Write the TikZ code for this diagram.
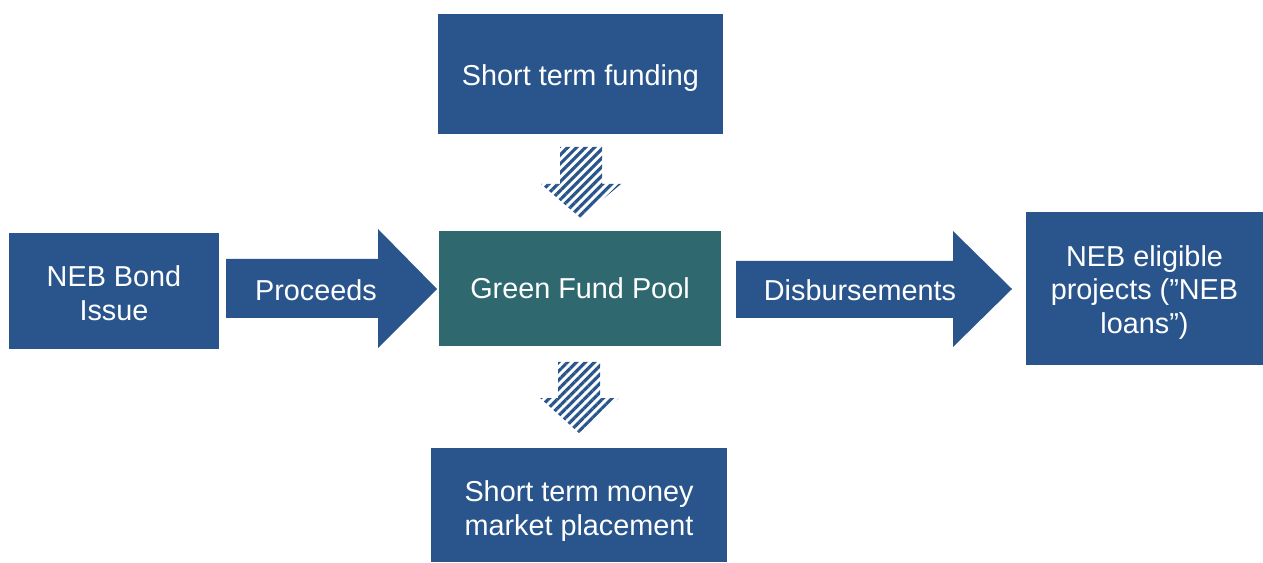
\documentclass[tikz,border=0pt]{standalone}
\usepackage{fontspec}
\setmainfont{Liberation Sans}
\usetikzlibrary{patterns.meta}

\definecolor{nebblue}{RGB}{41,85,140}
\definecolor{poolteal}{RGB}{47,104,111}

\begin{document}
\begin{tikzpicture}[x=0.02cm,y=-0.02cm,
	box/.style={rectangle,fill=nebblue,inner sep=0pt},
	label/.style={text=white,align=center,font=\fontsize{16.4}{19.3}\selectfont},
	hatch/.style={pattern={Lines[angle=45,distance=3.6pt,line width=1.8pt]},pattern color=nebblue}]
	\useasboundingbox (0,0) rectangle (1263,563);
	%\draw[help lines] (0,0) grid[step=100] (1263,563);

	% boxes
	\node[box,minimum width=5.7cm,minimum height=2.4cm] (funding) at (580.5,74) {};
	\node[box,minimum width=4.2cm,minimum height=2.32cm] (bond) at (114,291) {};
	\node[box,fill=poolteal,minimum width=5.64cm,minimum height=2.3cm] (pool) at (580,288.5) {};
	\node[box,minimum width=4.74cm,minimum height=3.06cm] (projects) at (1144.5,288.5) {};
	\node[box,minimum width=5.92cm,minimum height=2.28cm] (market) at (579,505) {};

	% texts, set a bit low in their boxes
	\node[label] at ([yshift=-2.3pt]funding) {Short term funding};
	\node[label] at ([yshift=-1.1pt]bond) {NEB Bond\\Issue};
	\node[label] at (pool) {Green Fund Pool};
	\node[label] at ([yshift=-2.3pt]projects) {NEB eligible\\projects (”NEB\\loans”)};
	\node[label] at ([yshift=-3.4pt]market) {Short term money\\market placement};

	% block arrows
	\fill[nebblue] (226,259) -- (378,259) -- (378,229) -- (437,289) -- (378,348) -- (378,318) -- (226,318) -- cycle;
	\node[label] (proceeds) at (316,290) {Proceeds};
	\fill[nebblue] (736,261) -- (953,261) -- (953,231) -- (1012,289) -- (953,347) -- (953,318) -- (736,318) -- cycle;
	\node[label] (disburse) at (860,290) {Disbursements};

	% striped arrows in and out of the pool
	\fill[hatch] (560,147) -- (602,147) -- (602,184) -- (621,184) -- (580.5,218) -- (541,184) -- (560,184) -- cycle;
	\fill[hatch] (558,362) -- (600,362) -- (600,398) -- (619,398) -- (579,433) -- (540,398) -- (558,398) -- cycle;
\end{tikzpicture}
\end{document}
